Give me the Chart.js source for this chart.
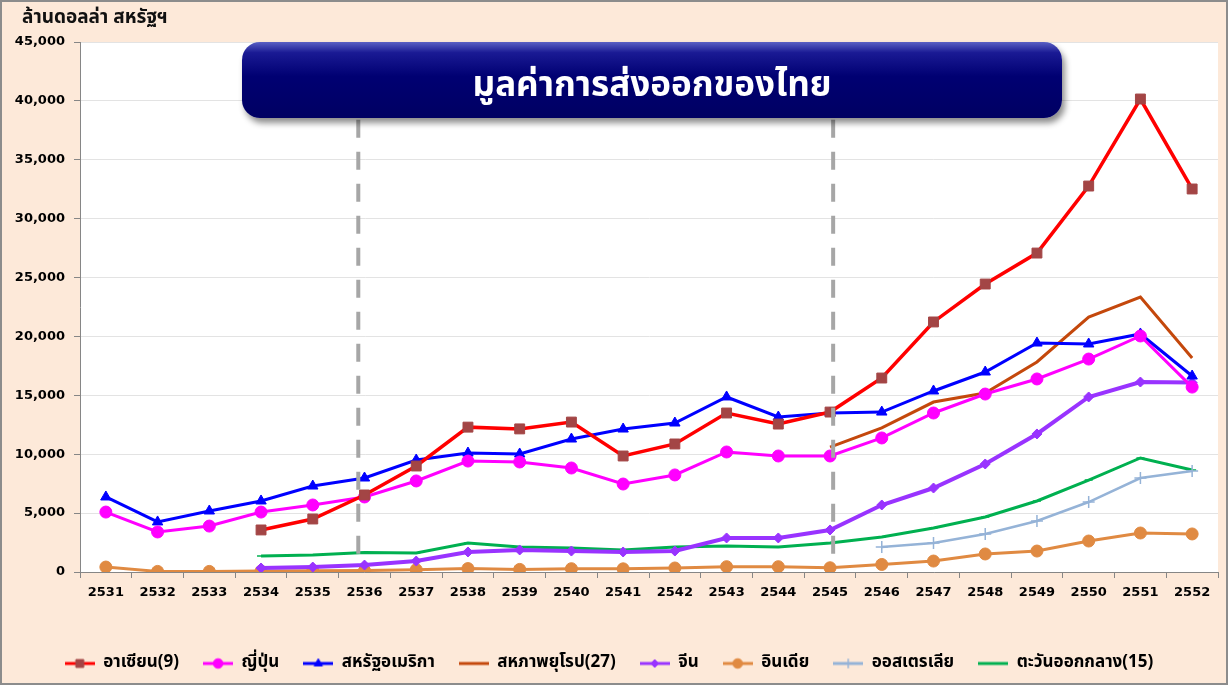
<!DOCTYPE html>
<html>
<head>
<meta charset="utf-8">
<script src="https://cdn.jsdelivr.net/npm/chart.js@4.4.0/dist/chart.umd.min.js"></script>
<style>
html, body { margin: 0; padding: 0; background: #fde9d9; }
#wrap { position: relative; width: 1228px; height: 685px; }
#unit { position: absolute; left: 22px; top: 3px; font: bold 19px Tahoma, "Noto Sans Thai", "DejaVu Sans", sans-serif; color: #111; }
#title {
    position: absolute; left: 242px; top: 42px; width: 820px; height: 76px;
    border-radius: 18px;
    background: linear-gradient(#5a60c4 0%, #1a1a94 14%, #000072 45%, #000062 100%);
    box-shadow: 3px 5px 6px rgba(0,0,0,0.45);
    color: #fff; text-align: center;
    font: bold 35px Tahoma, "Noto Sans Thai", "DejaVu Sans", sans-serif;
    box-sizing: border-box; padding-top: 14px; line-height: 60px;
}
</style>
</head>
<body>
<div id="wrap">
    <canvas id="chart" width="1228" height="685"></canvas>
    <div id="unit">ล้านดอลล่า สหรัฐฯ</div>
    <div id="title">มูลค่าการส่งออกของไทย</div>
</div>
<script>
// years (Thai B.E.)
var years = ['2531', '2532', '2533', '2534', '2535', '2536', '2537', '2538', '2539', '2540', '2541',
    '2542', '2543', '2544', '2545', '2546', '2547', '2548', '2549', '2550', '2551', '2552'];

// values in million US$
var asean = [null, null, null, 3570, 4500, 6540, 9000, 12300, 12150, 12730, 9850,
    10870, 13500, 12560, 13580, 16470, 21230, 24450, 27080, 32770, 40160, 32520];
var japan = [5090, 3400, 3900, 5090, 5690, 6370, 7730, 9420, 9340, 8830, 7470,
    8240, 10190, 9850, 9850, 11380, 13500, 15110, 16390, 18080, 20040, 15700];
var usa = [6370, 4250, 5180, 6030, 7300, 7980, 9510, 10100, 10020, 11290, 12140,
    12650, 14860, 13160, 13500, 13580, 15370, 16980, 19440, 19360, 20210, 16640];
var eu = [null, null, null, null, null, null, null, null, null, null, null,
    null, null, null, 10610, 12230, 14430, 15200, 17830, 21650, 23350, 18170];
var china = [null, null, null, 340, 420, 590, 930, 1700, 1870, 1780, 1700,
    1780, 2890, 2890, 3570, 5690, 7130, 9170, 11720, 14860, 16130, 16080];
var india = [420, 50, 50, 80, 100, 120, 200, 290, 220, 280, 270,
    340, 450, 450, 360, 640, 930, 1530, 1780, 2630, 3310, 3230];
var australia = [null, null, null, null, null, null, null, null, null, null, null,
    null, null, null, null, 2120, 2460, 3230, 4330, 5940, 7980, 8570];
var middleEast = [null, null, null, 1360, 1450, 1650, 1610, 2460, 2120, 2040, 1870,
    2120, 2210, 2120, 2460, 2970, 3740, 4670, 6030, 7810, 9680, 8660];

var yTicks = [0, 5000, 10000, 15000, 20000, 25000, 30000, 35000, 40000, 45000];

// dashed dividers, as category index (sit a little off 2536 and 2545)
var dividerAt = [4.88, 14.06];
var dividerTop = 38400;
var dividerBottom = 1000;

var thaiFont = 'Tahoma, "Noto Sans Thai", "DejaVu Sans", sans-serif';

function series(label, data, color, lineWidth, pointStyle, radius, markerColor) {
    return {
        label: label,
        data: data,
        borderColor: color,
        borderWidth: lineWidth,
        backgroundColor: markerColor || color,
        pointStyle: pointStyle || false,
        pointRadius: pointStyle ? radius : 0,
        pointBorderColor: markerColor || color,
        pointBorderWidth: pointStyle === 'cross' || pointStyle === 'line' ? 1.5 : 1,
        pointBackgroundColor: markerColor || color,
        tension: 0,
        fill: false
    };
}

var datasets = [
    series('อาเซียน(9)', asean, '#ff0000', 3.5, 'rect', 7, '#a34545'),
    series('ญี่ปุ่น', japan, '#ff00ff', 3, 'circle', 6),
    series('สหรัฐอเมริกา', usa, '#0000ff', 3, 'triangle', 6),
    series('สหภาพยุโรป(27)', eu, '#c4480c', 3, null, 0),
    series('จีน', china, '#9933ff', 4, 'rectRot', 5),
    series('อินเดีย', india, '#e08a42', 3, 'circle', 6),
    series('ออสเตรเลีย', australia, '#95b3d7', 2.5, 'cross', 6),
    series('ตะวันออกกลาง(15)', middleEast, '#00b050', 3, 'line', 4)
];

function legendIcon(ds) {
    var c = document.createElement('canvas');
    c.width = 30; c.height = 14;
    var g = c.getContext('2d');
    g.strokeStyle = ds.borderColor;
    g.lineWidth = 3;
    g.beginPath(); g.moveTo(0, 7); g.lineTo(30, 7); g.stroke();
    if (ds.pointStyle) {
        g.fillStyle = ds.pointBackgroundColor;
        g.strokeStyle = ds.pointBorderColor;
        g.lineWidth = ds.pointBorderWidth;
        Chart.helpers.drawPoint(g, {pointStyle: ds.pointStyle, radius: ds.pointRadius * 0.8, borderWidth: ds.pointBorderWidth, rotation: 0}, 15, 7);
    }
    return c;
}

var backdrop = {
    id: 'backdrop',
    beforeDraw: function (chart) {
        var ctx = chart.ctx, a = chart.chartArea;
        ctx.save();
        ctx.fillStyle = '#fde9d9';
        ctx.fillRect(0, 0, chart.width, chart.height);
        ctx.fillStyle = '#ffffff';
        ctx.fillRect(a.left, a.top, a.right - a.left, a.bottom - a.top);
        ctx.strokeStyle = '#8c8c8c';
        ctx.lineWidth = 2;
        ctx.strokeRect(1, 1, chart.width - 2, chart.height - 2);
        ctx.restore();
    },
    afterDatasetsDraw: function (chart) {
        var ctx = chart.ctx, x = chart.scales.x, y = chart.scales.y;
        ctx.save();
        ctx.strokeStyle = '#a6a6a6';
        ctx.lineWidth = 4;
        ctx.setLineDash([18, 14]);
        dividerAt.forEach(function (idx) {
            var px = x.getPixelForValue(idx);
            ctx.beginPath();
            ctx.moveTo(px, y.getPixelForValue(dividerTop));
            ctx.lineTo(px, y.getPixelForValue(dividerBottom));
            ctx.stroke();
        });
        ctx.restore();
    }
};

var ctx = document.getElementById('chart');

var lineChart = new Chart(ctx, {
    type: 'line',
    data: {
        labels: years,
        datasets: datasets
    },
    plugins: [backdrop],
    options: {
        responsive: false,
        animation: false,
        layout: {padding: {top: 42, right: 10, left: 0, bottom: 3}},
        plugins: {
            tooltip: {enabled: false},
            legend: {
                position: 'bottom',
                labels: {
                    usePointStyle: true,
                    pointStyleWidth: 30,
                    padding: 24,
                    color: '#000',
                    font: {family: thaiFont, size: 17, weight: 'bold'},
                    generateLabels: function (chart) {
                        return chart.data.datasets.map(function (ds, i) {
                            return {
                                text: ds.label, pointStyle: legendIcon(ds), datasetIndex: i,
                                fontColor: '#000', lineWidth: 0, hidden: false
                            };
                        });
                    }
                }
            }
        },
        scales: {
            x: {
                offset: true,
                grid: {drawOnChartArea: false, offset: true, tickLength: 6, color: '#868686'},
                border: {color: '#868686'},
                ticks: {color: '#000', padding: 7, font: {family: 'DejaVu Sans', size: 13, weight: 'bold'}},
                afterFit: function (s) { s.height = 59; }
            },
            y: {
                min: 0,
                max: 45000,
                afterBuildTicks: function (s) { s.ticks = yTicks.map(function (v) { return {value: v}; }); },
                grid: {color: '#e3e3e3', tickColor: '#868686', tickLength: 6},
                border: {color: '#868686'},
                ticks: {
                    color: '#000', padding: 9,
                    font: {family: 'DejaVu Sans', size: 13, weight: 'bold'},
                    callback: function (v) { return v.toLocaleString('en-US'); }
                },
                afterFit: function (s) { s.width = 80; }
            }
        }
    }
});
</script>
</body>
</html>
